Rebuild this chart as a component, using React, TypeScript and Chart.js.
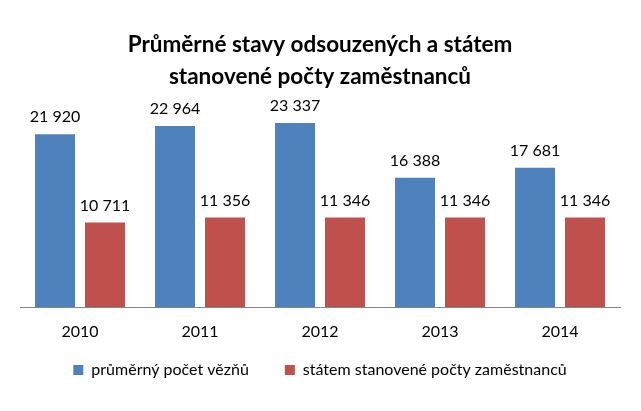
import React, { useEffect, useRef } from "react";
import { Chart, registerables } from "chart.js";

Chart.register(...registerables);

const titleLines = ["Průměrné stavy odsouzených a státem", "stanovené počty zaměstnanců"];
const categories = ["2010", "2011", "2012", "2013", "2014"];
const seriesNames = ["průměrný počet vězňů", "státem stanovené počty zaměstnanců"];
const prisoners = [21920, 22964, 23337, 16388, 17681];
const staff = [10711, 11356, 11346, 11346, 11346];

const FONT = "Lato, 'Open Sans', sans-serif";

const fmt = (v: number) => {
  const s = String(Math.round(v));
  return s.replace(/\B(?=(\d{3})+(?!\d))/g, " ");
};

const valueLabels = {
  id: "valueLabels",
  afterDatasetsDraw(chart: any) {
    const ctx = chart.ctx;
    ctx.save();
    ctx.font = `16px ${FONT}`;
    ctx.fillStyle = "#000";
    ctx.textAlign = "center";
    ctx.textBaseline = "alphabetic";
    chart.data.datasets.forEach((ds: any, di: number) => {
      const meta = chart.getDatasetMeta(di);
      meta.data.forEach((el: any, i: number) => {
        ctx.fillText(fmt(ds.data[i]), el.x, el.y - 12);
      });
    });
    ctx.restore();
  },
};

// let the x tick labels use the space above the legend's inner padding
const tickRoom = {
  id: "tickRoom",
  afterLayout(chart: any) {
    const x = chart.scales.x;
    x.bottom = x.top + 46;
  },
};

export default function App() {
  const ref = useRef<HTMLCanvasElement>(null);
  useEffect(() => {
    document.body.style.margin = "0";
    const chart = new Chart(ref.current!, {
      type: "bar",
      data: {
        labels: categories,
        datasets: [
          { label: seriesNames[0], data: prisoners, backgroundColor: "#4F81BD", borderWidth: 0 },
          { label: seriesNames[1], data: staff, backgroundColor: "#C0504D", borderWidth: 0 },
        ],
      },
      plugins: [valueLabels, tickRoom],
      options: {
        animation: false,
        responsive: false,
        layout: { padding: { left: 20, right: 21, top: 0, bottom: 23 } },
        datasets: { bar: { categoryPercentage: 0.833, barPercentage: 0.8 } },
        scales: {
          x: {
            grid: { display: false, drawTicks: false },
            border: { display: true, color: "#868686", width: 1 },
            ticks: { color: "#000", font: { family: FONT, size: 16 }, padding: 15 },
            afterFit: (scale: any) => {
              scale.height = 19;
            },
          },
          y: { display: false, min: 0, max: 25000 },
        },
        plugins: {
          title: {
            display: true,
            text: titleLines,
            color: "#000",
            font: { family: FONT, size: 22.5, weight: "bold", lineHeight: 1.4 },
            padding: { top: 29, bottom: 18 },
          },
          legend: {
            position: "bottom",
            labels: {
              boxWidth: 10,
              boxHeight: 10,
              padding: 36,
              color: "#000",
              font: { family: FONT, size: 16 },
            },
          },
          tooltip: { enabled: false },
        },
      },
    });
    return () => chart.destroy();
  }, []);
  return (
    <div style={{ width: 641, height: 411 }}>
      <canvas ref={ref} width={641} height={411} />
    </div>
  );
}
